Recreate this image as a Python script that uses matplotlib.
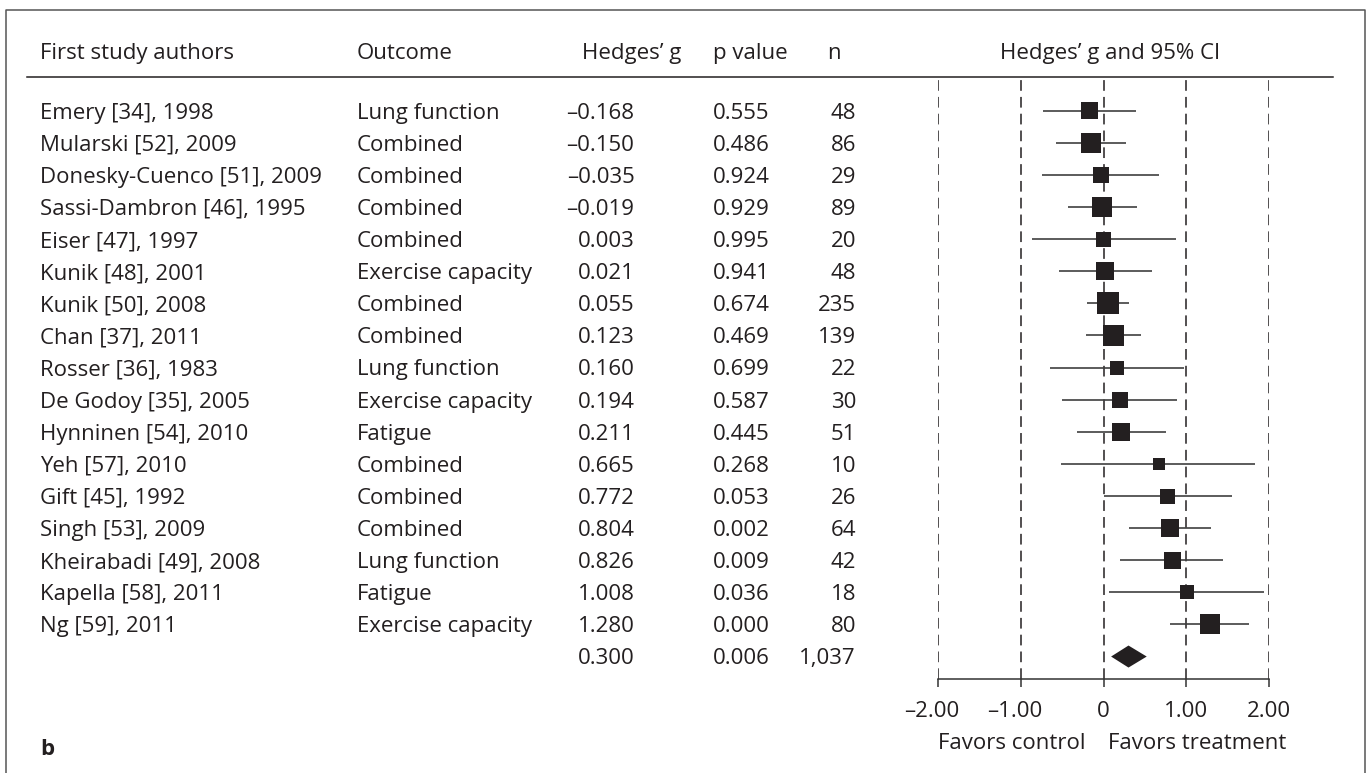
import matplotlib
matplotlib.use("Agg")
import matplotlib.pyplot as plt
import matplotlib.transforms as mtransforms
from matplotlib.lines import Line2D

# study table
authors = ["Emery [34], 1998", "Mularski [52], 2009", "Donesky-Cuenco [51], 2009",
           "Sassi-Dambron [46], 1995", "Eiser [47], 1997", "Kunik [48], 2001",
           "Kunik [50], 2008", "Chan [37], 2011", "Rosser [36], 1983",
           "De Godoy [35], 2005", "Hynninen [54], 2010", "Yeh [57], 2010",
           "Gift [45], 1992", "Singh [53], 2009", "Kheirabadi [49], 2008",
           "Kapella [58], 2011", "Ng [59], 2011"]
outcomes = ["Lung function", "Combined", "Combined", "Combined", "Combined",
            "Exercise capacity", "Combined", "Combined", "Lung function",
            "Exercise capacity", "Fatigue", "Combined", "Combined", "Combined",
            "Lung function", "Fatigue", "Exercise capacity"]
hedges_g = [-0.168, -0.150, -0.035, -0.019, 0.003, 0.021, 0.055, 0.123, 0.160,
            0.194, 0.211, 0.665, 0.772, 0.804, 0.826, 1.008, 1.280]
p_values = [0.555, 0.486, 0.924, 0.929, 0.995, 0.941, 0.674, 0.469, 0.699,
            0.587, 0.445, 0.268, 0.053, 0.002, 0.009, 0.036, 0.000]
n_sizes = [48, 86, 29, 89, 20, 48, 235, 139, 22, 30, 51, 10, 26, 64, 42, 18, 80]
ci_low = [-0.73, -0.57, -0.745, -0.435, -0.865, -0.54, -0.205, -0.21, -0.65,
          -0.505, -0.325, -0.515, 0.0, 0.305, 0.197, 0.064, 0.80]
ci_high = [0.39, 0.265, 0.67, 0.40, 0.87, 0.58, 0.31, 0.445, 0.965, 0.89,
           0.755, 1.83, 1.55, 1.30, 1.44, 1.94, 1.75]
box_weight = [17, 20, 16, 20, 15, 18, 22, 21, 14, 16, 18, 12, 15, 18, 17, 14, 20]

summary_g = 0.300
summary_p = 0.006
summary_n = 1037
summary_ci = [0.09, 0.52]

tick_values = [-2, -1, 0, 1, 2]
tick_labels = ["\u20132.00", "\u20131.00", "0", "1.00", "2.00"]

plt.rcParams["font.family"] = ["Open Sans", "DejaVu Sans"]
FS = 16
INK = "#231f20"
W, H = 1370, 773

fig = plt.figure(figsize=(W / 100, H / 100), dpi=100)
# axes placed so that -2..2 spans the forest-plot area
ax = fig.add_axes([938 / W, 1 - 678.7 / H, 331.3 / W, 602 / H])
ax.set_xlim(-2, 2)
ax.set_ylim(17.69, -1.06)


def px(dx, dy):
    # offset in screen pixels (y up)
    return mtransforms.ScaledTranslation(dx / 100, dy / 100, fig.dpi_scale_trans)


for s in ["top", "left", "right"]:
    ax.spines[s].set_visible(False)
ax.spines["bottom"].set_color("#333333")
ax.spines["bottom"].set_linewidth(1.1)
ax.set_yticks([])
ax.set_xticks(tick_values)
ax.set_xticklabels([])
ax.tick_params(axis="x", direction="out", length=6, width=1.1, color="#333333")

xtr = ax.get_xaxis_transform()
for v, lab in zip(tick_values, tick_labels):
    shift = -6.5 if lab.startswith("\u2013") else 0
    ax.text(v, 0, lab, transform=xtr + px(shift, -38.3), ha="center", va="baseline",
            fontsize=FS, color=INK)

for v in tick_values:
    ax.axvline(v, color=INK, lw=1.1, ls=(0, (7, 4)), zorder=1)

rows = list(range(len(authors)))
ax.hlines(rows, ci_low, ci_high, color="#3f3f3f", lw=1.2, zorder=2)
ax.scatter(hedges_g, rows, marker="s", s=[(b * 0.72) ** 2 for b in box_weight],
           color=INK, edgecolors="none", zorder=3)

ys = len(authors)
dh = 0.343
ax.fill([summary_ci[0], summary_g, summary_ci[1], summary_g],
        [ys, ys - dh, ys, ys + dh], color=INK, zorder=3, lw=0)

# table text: x in figure pixels, y in data rows, baseline dropped below row centre
tr = mtransforms.blended_transform_factory(
    mtransforms.Affine2D().scale(1 / W, 1) + fig.transFigure, ax.transData) + px(0, -7.9)


def fmt(v):
    return f"{v:.3f}".replace("-", "\u2013")


kw = dict(transform=tr, fontsize=FS, color=INK, va="baseline")
for i in rows:
    fig.text(40, i, authors[i], ha="left", **kw)
    fig.text(357, i, outcomes[i], ha="left", **kw)
    fig.text(634.5, i, fmt(hedges_g[i]), ha="right", **kw)
    fig.text(713, i, fmt(p_values[i]), ha="left", **kw)
    fig.text(856, i, f"{n_sizes[i]:,}", ha="right", **kw)
fig.text(634.5, ys, fmt(summary_g), ha="right", **kw)
fig.text(713, ys, fmt(summary_p), ha="left", **kw)
fig.text(856, ys, f"{summary_n:,}", ha="right", **kw)

# header
hy = 1 - 58.8 / H
hkw = dict(va="baseline", fontsize=FS, color=INK)
fig.text(40 / W, hy, "First study authors", ha="left", **hkw)
fig.text(357 / W, hy, "Outcome", ha="left", **hkw)
fig.text(582 / W, hy, "Hedges\u2019 g", ha="left", **hkw)
fig.text(713 / W, hy, "p value", ha="left", **hkw)
fig.text(827 / W, hy, "n", ha="left", **hkw)
fig.text(1110 / W, hy, "Hedges\u2019 g and 95% CI", ha="center", **hkw)
fig.add_artist(Line2D([27 / W, 1333 / W], [1 - 76.7 / H] * 2, color=INK, lw=1.1))

# favors labels under the axis
ax.text(-0.22, 0, "Favors control", transform=xtr + px(0, -70.6), ha="right",
        va="baseline", fontsize=FS, color=INK)
ax.text(0.05, 0, "Favors treatment", transform=xtr + px(0, -70.6), ha="left",
        va="baseline", fontsize=FS, color=INK)

fig.text(40 / W, 1 - 755 / H, "b", ha="left", va="baseline", fontsize=FS,
         fontweight="bold", color=INK)

# panel frame (open at the bottom)
fig.add_artist(Line2D([6 / W, 6 / W, 1365 / W, 1365 / W], [0, 1 - 10 / H, 1 - 10 / H, 0],
                      color="#555555", lw=1.1))

fig.savefig("out.png", dpi=100)
